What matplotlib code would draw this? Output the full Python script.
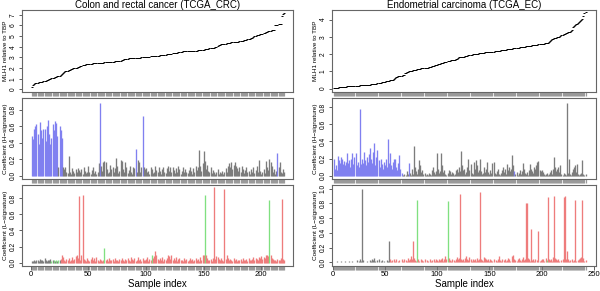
import matplotlib
matplotlib.use('Agg')
import matplotlib.pyplot as plt
import numpy as np

plt.rcParams['font.family'] = ['Liberation Sans', 'DejaVu Sans']

# ---------- Colon and rectal cancer (TCGA_CRC) ----------
crc_mlh1 = [
    0.25, 0.45, 0.5, 0.55, 0.58, 0.62, 0.65, 0.68, 0.7, 0.72, 0.75, 0.78, 0.82, 0.86, 0.9, 0.94, 0.98, 1.02, 1.06, 1.1,
    1.14, 1.18, 1.22, 1.25, 1.28, 1.35, 1.45, 1.55, 1.65, 1.72, 1.74, 1.76, 1.78, 1.82, 1.88, 1.94, 1.98, 2.0, 2.02, 2.05,
    2.08, 2.12, 2.16, 2.2, 2.24, 2.28, 2.31, 2.34, 2.36, 2.38, 2.4, 2.41, 2.42, 2.43, 2.44, 2.45, 2.46, 2.47, 2.48, 2.49,
    2.5, 2.51, 2.52, 2.53, 2.54, 2.55, 2.56, 2.57, 2.58, 2.59, 2.6, 2.61, 2.62, 2.63, 2.64, 2.65, 2.66, 2.7, 2.74, 2.78,
    2.82, 2.85, 2.87, 2.89, 2.9, 2.91, 2.92, 2.93, 2.94, 2.95, 2.96, 2.97, 2.97, 2.98, 2.99, 3.0, 3.01, 3.02, 3.03, 3.05,
    3.06, 3.07, 3.08, 3.09, 3.1, 3.11, 3.12, 3.13, 3.14, 3.15, 3.16, 3.18, 3.2, 3.22, 3.24, 3.25, 3.26, 3.28, 3.3, 3.32,
    3.34, 3.36, 3.38, 3.4, 3.42, 3.44, 3.46, 3.48, 3.5, 3.52, 3.54, 3.56, 3.58, 3.59, 3.6, 3.6, 3.61, 3.61, 3.62, 3.62,
    3.63, 3.63, 3.64, 3.64, 3.65, 3.66, 3.67, 3.7, 3.72, 3.74, 3.76, 3.78, 3.8, 3.82, 3.84, 3.86, 3.88, 3.9, 3.92, 3.95,
    4.0, 4.1, 4.18, 4.2, 4.22, 4.24, 4.26, 4.28, 4.3, 4.32, 4.34, 4.36, 4.38, 4.4, 4.41, 4.42, 4.44, 4.46, 4.47, 4.48,
    4.5, 4.52, 4.55, 4.58, 4.6, 4.63, 4.66, 4.7, 4.73, 4.76, 4.8, 4.85, 4.92, 5.0, 5.05, 5.1, 5.12, 5.15, 5.18, 5.2,
    5.22, 5.25, 5.3, 5.35, 5.4, 5.45, 5.5, 5.52, 5.55, 5.58, 5.6, 6.0, 6.05, 6.08, 6.1, 6.12, 6.14, 6.9, 7.1, 7.2,
]

crc_h = [
    0.48, 0.44, 0.57, 0.6, 0.62, 0.5, 0.38, 0.65, 0.55, 0.45, 0.56, 0.57, 0.42, 0.6, 0.67, 0.5, 0.38, 0.46, 0.62, 0.55,
    0.66, 0.64, 0.48, 0.1, 0.6, 0.55, 0.45, 0.1, 0.08, 0.1, 0.04, 0.03, 0.24, 0.05, 0.02, 0.09, 0.06, 0.03, 0.08, 0.05,
    0.09, 0.07, 0.04, 0.08, 0.02, 0.1, 0.06, 0.03, 0.05, 0.12, 0.04, 0.02, 0.07, 0.11, 0.03, 0.06, 0.02, 0.05, 0.15, 0.88,
    0.12, 0.06, 0.17, 0.18, 0.17, 0.08, 0.03, 0.05, 0.13, 0.08, 0.1, 0.04, 0.09, 0.21, 0.12, 0.03, 0.06, 0.19, 0.18, 0.08,
    0.05, 0.16, 0.1, 0.03, 0.07, 0.12, 0.04, 0.02, 0.11, 0.09, 0.32, 0.05, 0.19, 0.16, 0.04, 0.1, 0.72, 0.1, 0.08, 0.09,
    0.04, 0.06, 0.02, 0.1, 0.08, 0.03, 0.05, 0.12, 0.07, 0.04, 0.1, 0.06, 0.02, 0.08, 0.11, 0.05, 0.03, 0.09, 0.12, 0.06,
    0.1, 0.04, 0.11, 0.07, 0.03, 0.09, 0.05, 0.12, 0.08, 0.02, 0.06, 0.1, 0.04, 0.08, 0.05, 0.03, 0.07, 0.11, 0.06, 0.02,
    0.09, 0.05, 0.12, 0.07, 0.1, 0.31, 0.12, 0.06, 0.15, 0.3, 0.18, 0.08, 0.13, 0.06, 0.04, 0.1, 0.03, 0.07, 0.05, 0.02,
    0.04, 0.08, 0.02, 0.05, 0.03, 0.06, 0.02, 0.04, 0.09, 0.05, 0.12, 0.15, 0.11, 0.16, 0.08, 0.13, 0.16, 0.12, 0.09, 0.06,
    0.1, 0.05, 0.12, 0.08, 0.03, 0.07, 0.1, 0.04, 0.06, 0.02, 0.08, 0.05, 0.1, 0.03, 0.07, 0.12, 0.04, 0.19, 0.06, 0.02,
    0.05, 0.08, 0.03, 0.18, 0.1, 0.07, 0.2, 0.16, 0.12, 0.04, 0.08, 0.02, 0.06, 0.27, 0.1, 0.17, 0.05, 0.03, 0.08, 0.04,
]
# b = blue (H-signature), k = grey
crc_h_col = (
    "bbbbbbbbbbbbbbbbbbbbbbbkbbbkkkkkkkkkkkkk"
    "kkkkkkkkkkkkkkkkkkkb"
    "kkkkkkkkkkkkkkkkkkkk"
    "kkkkkkkkkkbkkkkkbkkk"
    "kkkkkkkkkkkkkkkkkkkk"
    "kkkkkkkkkkkkkkkkkkkk"
    "kkkkkkkkkkkkkkkkkkkk"
    "kkkkkkkkkkkkkkkkkkkk"
    "kkkkkkkkkkkkkkkkkkkk"
    "kkkkkkkkkkkkkbkkkkkk"
)

crc_l = [
    0.02, 0.02, 0.03, 0.02, 0.04, 0.03, 0.02, 0.05, 0.03, 0.04, 0.02, 0.06, 0.03, 0.02, 0.04, 0.03, 0.05, 0.02, 0.03, 0.04,
    0.02, 0.03, 0.02, 0.04, 0.03, 0.05, 0.09, 0.07, 0.03, 0.02, 0.05, 0.03, 0.06, 0.02, 0.04, 0.07, 0.03, 0.05, 0.08, 0.1,
    0.06, 0.82, 0.04, 0.1, 0.84, 0.05, 0.03, 0.02, 0.06, 0.04, 0.02, 0.05, 0.07, 0.03, 0.06, 0.02, 0.07, 0.04, 0.02, 0.05,
    0.03, 0.02, 0.04, 0.18, 0.03, 0.05, 0.02, 0.06, 0.04, 0.03, 0.05, 0.02, 0.06, 0.03, 0.04, 0.02, 0.05, 0.03, 0.06, 0.04,
    0.02, 0.05, 0.03, 0.06, 0.04, 0.02, 0.07, 0.05, 0.03, 0.06, 0.02, 0.04, 0.07, 0.03, 0.05, 0.02, 0.06, 0.04, 0.03, 0.05,
    0.07, 0.02, 0.05, 0.04, 0.1, 0.06, 0.08, 0.15, 0.1, 0.05, 0.03, 0.06, 0.04, 0.07, 0.02, 0.05, 0.03, 0.06, 0.1, 0.08,
    0.05, 0.09, 0.04, 0.06, 0.03, 0.07, 0.02, 0.05, 0.06, 0.03, 0.04, 0.02, 0.06, 0.03, 0.05, 0.02, 0.04, 0.06, 0.03, 0.05,
    0.02, 0.04, 0.06, 0.03, 0.05, 0.02, 0.07, 0.04, 0.09, 0.1, 0.84, 0.09, 0.06, 0.04, 0.03, 0.05, 0.02, 0.06, 0.93, 0.05,
    0.08, 0.07, 0.05, 0.03, 0.06, 0.04, 0.02, 0.91, 0.05, 0.09, 0.06, 0.03, 0.05, 0.04, 0.02, 0.06, 0.03, 0.05, 0.02, 0.04,
    0.03, 0.05, 0.02, 0.06, 0.04, 0.03, 0.05, 0.02, 0.06, 0.04, 0.03, 0.05, 0.07, 0.04, 0.06, 0.05, 0.03, 0.07, 0.06, 0.08,
    0.05, 0.07, 0.06, 0.09, 0.1, 0.08, 0.77, 0.1, 0.06, 0.05, 0.04, 0.03, 0.02, 0.05, 0.03, 0.04, 0.06, 0.79, 0.05, 0.03,
]
# k = grey, r = red, g = green (L-signature)
crc_l_col = (
    "kkkkkkkkkkkkkkkkkgkgkgkgkrrrrrrrrrrrrrrr"
    "rrrrrrrrrrrrrrrrrrrr"
    "rrrgrrrrrrrrrrrrrrrr"
    "rrrrrrrrrrrrrrrrrrrr"
    "rrrrgrrrrrrrrrrrrrrr"
    "rrrrrrrrrrrrrrrrrrrr"
    "rrrrrrrrrrgrrrrrrrrr"
    "rrrrrrrrrrrrrrrrrrrr"
    "rrrrrrrrrrrrrrrrrrrr"
    "rrrrrrgrrrrrrrrrrrrr"
)

# ---------- Endometrial carcinoma (TCGA_EC) ----------
ec_mlh1 = [
    0.02, 0.03, 0.04, 0.05, 0.06, 0.07, 0.07, 0.08, 0.09, 0.1, 0.1, 0.11, 0.11, 0.12, 0.12, 0.13, 0.13, 0.14, 0.14, 0.15,
    0.15, 0.16, 0.16, 0.17, 0.17, 0.18, 0.18, 0.19, 0.2, 0.2, 0.21, 0.21, 0.22, 0.22, 0.23, 0.23, 0.24, 0.25, 0.26, 0.26,
    0.27, 0.28, 0.3, 0.31, 0.33, 0.34, 0.36, 0.37, 0.38, 0.4, 0.41, 0.42, 0.43, 0.45, 0.47, 0.48, 0.5, 0.52, 0.56, 0.62,
    0.66, 0.68, 0.7, 0.72, 0.73, 0.74, 0.76, 0.8, 0.88, 0.92, 0.95, 0.98, 1.0, 1.02, 1.03, 1.04, 1.05, 1.06, 1.08, 1.1,
    1.12, 1.14, 1.15, 1.16, 1.17, 1.18, 1.18, 1.19, 1.2, 1.2, 1.21, 1.22, 1.24, 1.26, 1.28, 1.3, 1.32, 1.34, 1.36, 1.38,
    1.4, 1.42, 1.44, 1.46, 1.48, 1.5, 1.52, 1.54, 1.56, 1.58, 1.6, 1.62, 1.63, 1.64, 1.65, 1.66, 1.68, 1.7, 1.72, 1.76,
    1.8, 1.82, 1.83, 1.84, 1.84, 1.85, 1.86, 1.88, 1.9, 1.92, 1.94, 1.96, 1.97, 1.98, 1.99, 2.0, 2.01, 2.02, 2.03, 2.04,
    2.05, 2.06, 2.07, 2.08, 2.08, 2.09, 2.1, 2.1, 2.11, 2.12, 2.12, 2.13, 2.14, 2.14, 2.15, 2.16, 2.17, 2.18, 2.19, 2.2,
    2.21, 2.22, 2.23, 2.24, 2.25, 2.26, 2.27, 2.28, 2.29, 2.3, 2.31, 2.32, 2.33, 2.34, 2.34, 2.35, 2.36, 2.37, 2.38, 2.39,
    2.4, 2.41, 2.42, 2.43, 2.44, 2.45, 2.46, 2.47, 2.48, 2.49, 2.5, 2.51, 2.52, 2.53, 2.54, 2.55, 2.56, 2.57, 2.58, 2.59,
    2.6, 2.61, 2.62, 2.63, 2.64, 2.66, 2.72, 2.78, 2.82, 2.86, 2.88, 2.9, 2.92, 2.94, 2.96, 2.98, 3.0, 3.04, 3.08, 3.12,
    3.15, 3.18, 3.2, 3.22, 3.25, 3.28, 3.3, 3.32, 3.4, 3.55, 3.6, 3.66, 3.72, 3.76, 3.8, 3.85, 3.9, 3.98, 4.05, 4.2,
    4.37, 4.45,
]

ec_h = [
    0.2, 0.08, 0.12, 0.06, 0.23, 0.18, 0.15, 0.22, 0.2, 0.14, 0.17, 0.12, 0.16, 0.27, 0.15, 0.18, 0.1, 0.2, 0.27, 0.14,
    0.22, 0.27, 0.12, 0.16, 0.1, 0.78, 0.13, 0.2, 0.15, 0.28, 0.18, 0.12, 0.22, 0.16, 0.25, 0.32, 0.2, 0.15, 0.28, 0.38,
    0.12, 0.22, 0.3, 0.18, 0.1, 0.2, 0.14, 0.08, 0.16, 0.12, 0.2, 0.1, 0.43, 0.15, 0.27, 0.12, 0.08, 0.16, 0.2, 0.19,
    0.1, 0.06, 0.15, 0.24, 0.08, 0.03, 0.01, 0.02, 0.0, 0.01, 0.05, 0.02, 0.15, 0.03, 0.01, 0.08, 0.02, 0.35, 0.1, 0.05,
    0.02, 0.08, 0.18, 0.12, 0.04, 0.06, 0.02, 0.03, 0.01, 0.02, 0.01, 0.03, 0.02, 0.01, 0.06, 0.1, 0.04, 0.02, 0.05, 0.26,
    0.08, 0.03, 0.05, 0.26, 0.12, 0.04, 0.06, 0.02, 0.01, 0.03, 0.06, 0.05, 0.02, 0.04, 0.03, 0.01, 0.02, 0.06, 0.08, 0.04,
    0.1, 0.05, 0.29, 0.12, 0.06, 0.08, 0.02, 0.04, 0.1, 0.2, 0.06, 0.14, 0.03, 0.02, 0.16, 0.08, 0.18, 0.12, 0.04, 0.06,
    0.19, 0.05, 0.02, 0.03, 0.1, 0.04, 0.08, 0.16, 0.04, 0.02, 0.06, 0.03, 0.15, 0.16, 0.03, 0.02, 0.05, 0.08, 0.02, 0.01,
    0.03, 0.06, 0.1, 0.04, 0.08, 0.02, 0.14, 0.06, 0.1, 0.05, 0.08, 0.24, 0.12, 0.05, 0.02, 0.04, 0.01, 0.03, 0.06, 0.02,
    0.05, 0.15, 0.08, 0.03, 0.02, 0.04, 0.01, 0.06, 0.13, 0.08, 0.05, 0.03, 0.1, 0.08, 0.12, 0.16, 0.17, 0.06, 0.05, 0.06,
    0.04, 0.02, 0.01, 0.02, 0.03, 0.01, 0.02, 0.04, 0.06, 0.02, 0.08, 0.22, 0.1, 0.05, 0.08, 0.1, 0.04, 0.12, 0.02, 0.01,
    0.03, 0.02, 0.01, 0.85, 0.03, 0.2, 0.02, 0.01, 0.04, 0.08, 0.1, 0.12, 0.04, 0.13, 0.02, 0.01, 0.02, 0.03, 0.18, 0.02,
    0.01, 0.02,
]
ec_h_col = (
    "bbbbbbbbbbbbbbbbbbbbbbbbbbbbbbbbbbbbbbbb"
    "bbbbbbbbbbbbbbbbbbbbbbbbbbkkkkkkbkkkkkkk"
    "kkkkkkkkkkkkkkkkkkkkkkkkkkkkkkkkkkkkkkkk"
    "kkkkkkkkkkkkkkkkkkkkkkkkkkkkkkkkkkkkkkkk"
    "kkkkkkkkkkkkkbkkkkkkkkkkkkkkkkkkkkkkkkkk"
    "kkkkkkkkkkkkkkkkkkkkkkkkkkkkkkkkkkkkkkkk"
    "kkkkkkkkkkkkkkkkkkkkkkkbkkkkkkkkkkkkkkkk"
    "kk"
)

ec_l = [
    0.01, 0.0, 0.01, 0.02, 0.01, 0.0, 0.01, 0.02, 0.01, 0.0, 0.01, 0.02, 0.01, 0.0, 0.01, 0.02, 0.01, 0.0, 0.02, 0.01,
    0.0, 0.01, 0.03, 0.01, 0.02, 0.04, 0.02, 1.0, 0.03, 0.01, 0.0, 0.01, 0.02, 0.0, 0.01, 0.03, 0.02, 0.05, 0.03, 0.06,
    0.02, 0.01, 0.03, 0.04, 0.01, 0.02, 0.03, 0.01, 0.02, 0.0, 0.01, 0.03, 0.02, 0.29, 0.04, 0.02, 0.03, 0.01, 0.05, 0.02,
    0.04, 0.01, 0.02, 0.03, 0.01, 0.05, 0.02, 0.04, 0.01, 0.03, 0.02, 0.06, 0.03, 0.05, 0.08, 0.04, 0.29, 0.06, 0.03, 0.02,
    0.85, 0.04, 0.02, 0.01, 0.05, 0.03, 0.02, 0.04, 0.01, 0.03, 0.02, 0.01, 0.04, 0.02, 0.03, 0.01, 0.05, 0.02, 0.04, 0.03,
    0.02, 0.05, 0.03, 0.04, 0.06, 0.02, 0.05, 0.08, 0.04, 0.83, 0.06, 0.03, 0.02, 0.04, 0.01, 0.03, 0.02, 0.05, 0.07, 0.04,
    0.06, 0.93, 0.05, 0.03, 0.04, 0.02, 0.06, 0.08, 0.05, 0.03, 0.07, 0.04, 0.02, 0.05, 0.03, 0.04, 0.02, 0.06, 0.03, 0.05,
    0.95, 0.04, 0.03, 0.02, 0.07, 0.06, 0.04, 0.03, 0.05, 0.02, 0.04, 0.03, 0.02, 0.05, 0.01, 0.03, 0.02, 0.04, 0.08, 0.03,
    0.02, 0.04, 0.01, 0.03, 0.05, 0.02, 0.03, 0.06, 0.04, 0.02, 0.01, 0.08, 0.1, 0.05, 0.03, 0.02, 0.04, 0.06, 0.03, 0.02,
    0.04, 0.07, 0.03, 0.05, 0.8, 0.81, 0.06, 0.04, 0.02, 0.45, 0.03, 0.05, 0.02, 0.04, 0.01, 0.03, 0.42, 0.02, 0.03, 0.05,
    0.04, 0.02, 0.01, 0.06, 0.03, 0.89, 0.05, 0.03, 0.04, 0.02, 0.07, 0.9, 0.06, 0.05, 0.03, 0.04, 0.02, 0.01, 0.03, 0.05,
    0.89, 0.9, 0.04, 0.15, 0.05, 0.02, 0.03, 0.01, 0.04, 0.02, 0.03, 0.85, 0.02, 0.01, 0.03, 0.04, 0.06, 0.07, 0.84, 0.06,
    0.02, 0.03,
]
ec_l_col = (
    "kkkkkkkkkkkkkkkkkkkkkkkkkkkkkkkkkkkkkkkk"
    "kkkkkkkkkkkkkkrrrrrrrrrrrrrrrrrrrrrrrrrr"
    "grrrrrrrrrrrrrrrrrrrrrrrrrrrrgrrrrrrrrrr"
    "rrrrrrrrrrrrrrrrrrrrrrrrrrrrrrrrrrrrrrrr"
    "rrrrrrrrrrrrrrrrrrrrrrrrrrrrrrrrrrrrrrrr"
    "rrrrgrrrrrrrrrrrrrrrrrrrrrrrrrrrrrrrrrrr"
    "rrrkrrrrrrrrrrrrrrrrrrrrrrrrrrrrrrrrrrrr"
    "rr"
)

palette = {'b': '#8080f0', 'k': '#7c7c7c', 'r': '#ee7c7c', 'g': '#80e080'}
lbl_top = 'MLH1 relative to TBP'
lbl_h = 'Coefficient (H\u2212signature)'
lbl_l = 'Coefficient (L\u2212signature)'

fig = plt.figure(figsize=(6.0, 2.91), dpi=100)


def style_axis(ax, n, xlim, ylim, yticks, fmt, bottom=False, xticks=None):
    x = np.arange(1, n + 1)
    ax.set_xlim(*xlim)
    ax.set_ylim(*ylim)
    for s in ax.spines.values():
        s.set_color('#666666')
        s.set_linewidth(0.8)
    ax.set_yticks(yticks)
    ax.set_yticklabels([fmt.format(v) for v in yticks])
    ax.tick_params(axis='y', labelsize=4.8, length=2.2, width=0.6, pad=1.5,
                   color='#444444', labelrotation=90)
    for t in ax.get_yticklabels():
        t.set_verticalalignment('center')
    # sample rug along the bottom
    ax.set_xticks(x, minor=True)
    ax.tick_params(axis='x', which='minor', length=2.6, width=0.9, color='#9a9a9a')
    if bottom:
        ax.set_xticks(xticks)
        ax.tick_params(axis='x', which='major', labelsize=5.5, length=2.6, width=0.6,
                       pad=1.2, color='#444444')
        ax.set_xlabel('Sample index', fontsize=7, labelpad=0.5)
    else:
        ax.set_xticks([])


def draw_column(left, width, title, mlh1, hvals, hcol, lvals, lcol, xlim, top_yt, top_ylim,
                h_yt, h_ylim, l_yt, l_ylim, xticks):
    n = len(mlh1)
    x = np.arange(1, n + 1)

    ax1 = fig.add_axes([left, 0.6838, width, 0.2818])
    ax1.plot(x, mlh1, linestyle='none', marker='_', markersize=1.5, mew=0.7, color='black')
    style_axis(ax1, n, xlim, top_ylim, top_yt, '{:d}')
    ax1.set_ylabel(lbl_top, fontsize=4.6, labelpad=1.5)
    ax1.set_title(title, fontsize=7, pad=1.5)

    ax2 = fig.add_axes([left, 0.3849, width, 0.2784])
    ax2.vlines(x, 0, hvals, colors=[palette[c] for c in hcol], linewidth=0.95)
    style_axis(ax2, n, xlim, h_ylim, h_yt, '{:.1f}')
    ax2.set_ylabel(lbl_h, fontsize=4.6, labelpad=1.5)

    ax3 = fig.add_axes([left, 0.0859, width, 0.2784])
    ax3.vlines(x, 0, lvals, colors=[palette[c] for c in lcol], linewidth=0.95)
    style_axis(ax3, n, xlim, l_ylim, l_yt, '{:.1f}', bottom=True, xticks=xticks)
    ax3.set_ylabel(lbl_l, fontsize=4.6, labelpad=1.5)


draw_column(0.0367, 0.4517, 'Colon and rectal cancer (TCGA_CRC)',
            crc_mlh1, crc_h, crc_h_col, crc_l, crc_l_col,
            (-7.5, 227.5), list(range(0, 8)), (-0.25, 7.45),
            [0.0, 0.2, 0.4, 0.6, 0.8], (-0.04, 0.94),
            [0.0, 0.2, 0.4, 0.6, 0.8], (-0.04, 0.96),
            [0, 50, 100, 150, 200])

draw_column(0.5533, 0.44, 'Endometrial carcinoma (TCGA_EC)',
            ec_mlh1, ec_h, ec_h_col, ec_l, ec_l_col,
            (-0.5, 252), list(range(0, 5)), (-0.2, 4.55),
            [0.0, 0.2, 0.4, 0.6, 0.8], (-0.04, 0.91),
            [0.0, 0.2, 0.4, 0.6, 0.8, 1.0], (-0.05, 1.05),
            [0, 50, 100, 150, 200, 250])

fig.savefig('out.png', dpi=100)
